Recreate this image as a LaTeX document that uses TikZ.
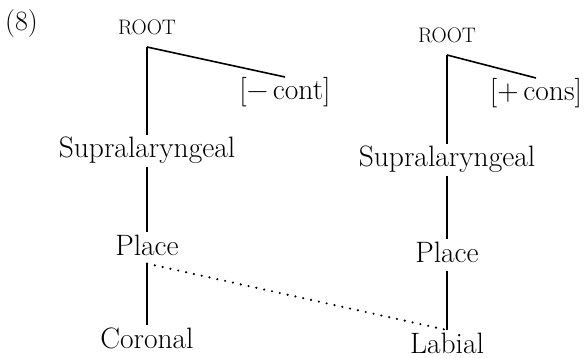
\documentclass[tikz,border=0pt]{standalone}
\usepackage{fontspec}

\tikzset{
  feat/.style = {font=\fontsize{29.5}{34}\selectfont, inner sep=0pt, outer sep=3pt,
                 text height=20pt, text depth=5.6pt, anchor=base},
  rootlbl/.style = {font=\fontsize{21}{25}\selectfont, inner sep=0pt,
                    outer xsep=0pt, outer ysep=12pt, text depth=0pt, anchor=base},
  assoc/.style = {line width=1.6pt},
  delink/.style = {line width=2.4pt, line cap=round, dash pattern=on 0pt off 8pt}
}

\begin{document}
\begin{tikzpicture}[x=1pt, y=-1pt]
  \useasboundingbox (0,0) rectangle (586,358);

  % Example number
  \node[anchor=base west, inner sep=0pt, font=\fontsize{28}{32}\selectfont] (num) at (5,31) {(8)};

  % Left tree: nodes
  \node[rootlbl] (lroot) at (147,35) {ROOT};
  \node[feat] (lcont) at (285,100) {[−\,cont]};
  \node[feat] (lsup) at (147,158) {Supralaryngeal};
  \node[feat] (lplace) at (147,255) {Place};
  \node[feat] (lcor) at (147,348) {Coronal};

  % Right tree: nodes
  \node[rootlbl] (rroot) at (447,43) {ROOT};
  \node[feat] (rcons) at (536,101) {[+\,cons]};
  \node[feat] (rsup) at (447,167) {Supralaryngeal};
  \node[feat] (rplace) at (447,262) {Place};
  \node[feat] (rlab) at (447,353) {Labial};

  % Association lines
  \draw[assoc] (lroot.south) -- (lcont.north);
  \draw[assoc] (lroot) -- (lsup);
  \draw[assoc] (lsup) -- (lplace);
  \draw[assoc] (lplace) -- (lcor);

  \draw[assoc] (rroot.south) -- (rcons.north);
  \draw[assoc] (rroot) -- (rsup);
  \draw[assoc] (rsup) -- (rplace);
  \draw[assoc] (rplace) -- (rlab);

  % Spreading of Place to Labial
  \draw[delink] (lplace.south) -- (rlab.north);
\end{tikzpicture}
\end{document}
